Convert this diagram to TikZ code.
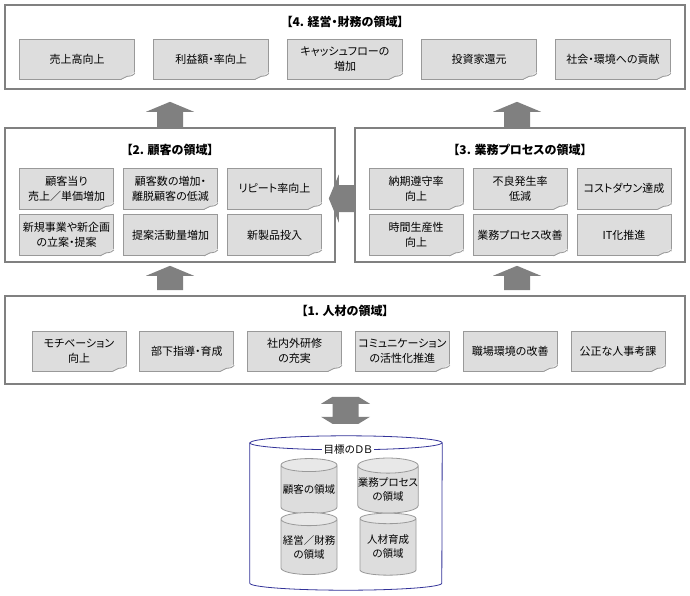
\documentclass[tikz,border=0pt]{standalone}
\usepackage{fontspec}
\setmainfont{Noto Sans CJK JP}[RawFeature=+palt]
\usetikzlibrary{shapes.geometric, calc, positioning}

\definecolor{framegray}{HTML}{808080}
\definecolor{notegray}{HTML}{DDDDDD}
\definecolor{noteline}{HTML}{999999}
\definecolor{foldgray}{HTML}{BDBDBD}
\definecolor{dbblue}{HTML}{333399}
\definecolor{endgray}{HTML}{E8E8E8}

% folded corner of a note
\newcommand{\dogear}[1]{%
  \fill[white] ([yshift=7pt]#1.south east) -- ([shift={(1pt,-1pt)}]#1.south east) -- ([shift={(-15pt,-1pt)}]#1.south east) -- cycle;
  \fill[foldgray] ([yshift=6pt]#1.south east) -- ([shift={(-8pt,3pt)}]#1.south east) -- ([xshift=-14pt]#1.south east) -- cycle;
  \draw[noteline, line width=0.8pt] ([yshift=6pt]#1.south east) .. controls ([shift={(-4pt,2pt)}]#1.south east) and ([shift={(-6pt,4pt)}]#1.south east) .. ([shift={(-8pt,3pt)}]#1.south east) -- ([xshift=-14pt]#1.south east);
}

\begin{document}
\begin{tikzpicture}[
    x=1pt, y=-1pt,
    frame/.style={draw=framegray, line width=1.6pt, fill=white, inner sep=0pt},
    title/.style={font=\bfseries\fontsize{12}{14}\selectfont},
    note/.style={draw=noteline, line width=0.8pt, fill=notegray, minimum height=40pt, inner sep=1pt, align=center, font=\fontsize{11}{15}\selectfont},
    blockarrow/.style={fill=framegray},
    uparrow/.style={to path={let \p1=(\tikztostart), \p2=(\tikztotarget) in
        (\x1-13pt,\y1) -- (\x1-13pt,\y2-10pt) -- (\x1-24pt,\y2-10pt) -- (\x1,\y2)
        -- (\x1+24pt,\y2-10pt) -- (\x1+13pt,\y2-10pt) -- (\x1+13pt,\y1) -- cycle}},
    leftarrow/.style={to path={let \p1=(\tikztostart), \p2=(\tikztotarget) in
        (\x1,\y1+13.5pt) -- (\x2+10pt,\y1+13.5pt) -- (\x2+10pt,\y1+24pt) -- (\x2,\y1)
        -- (\x2+10pt,\y1-24pt) -- (\x2+10pt,\y1-13.5pt) -- (\x1,\y1-13.5pt) -- cycle}},
    botharrow/.style={to path={let \p1=(\tikztostart), \p2=(\tikztotarget) in
        (\x1-13pt,\y1) -- (\x1+13pt,\y1) -- (\x1+24.5pt,\y1-7pt) -- (\x1+13pt,\y1-7pt)
        -- (\x1+13pt,\y2+7pt) -- (\x1+24.5pt,\y2+7pt) -- (\x1+13pt,\y2) -- (\x1-13pt,\y2)
        -- (\x1-24.5pt,\y2+7pt) -- (\x1-13pt,\y2+7pt) -- (\x1-13pt,\y1-7pt) -- (\x1-24.5pt,\y1-7pt) -- cycle}},
    dbline/.style={draw=dbblue, line width=0.8pt},
    subdb/.style={cylinder, shape border rotate=90, draw=noteline, line width=0.8pt,
        cylinder uses custom fill, cylinder body fill=notegray, cylinder end fill=endgray,
        minimum width=56pt, aspect=0.25, inner sep=0pt, align=center,
        font=\fontsize{10.5}{14}\selectfont}
]
    \useasboundingbox (0,0) rectangle (690,595);

    % Frames
    \node[frame, minimum width=680pt, minimum height=84pt] (fin) at (345,47) {};
    \node[frame, minimum width=330pt, minimum height=134pt] (cust) at (170,195) {};
    \node[frame, minimum width=330pt, minimum height=134pt] (proc) at (520,195) {};
    \node[frame, minimum width=680pt, minimum height=88pt] (hr) at (345,340) {};

    \node[title] (fintitle) at (345,22) {【4. 経営・財務の領域】};
    \node[title] (custtitle) at (170,150) {【2. 顧客の領域】};
    \node[title] (proctitle) at (520,150) {【3. 業務プロセスの領域】};
    \node[title] (hrtitle) at (345,311) {【1. 人材の領域】};

    % Finance notes
    \foreach \t [count=\i from 0] in {売上高向上, 利益額・率向上, {キャッシュフローの\\増加}, 投資家還元, 社会・環境への貢献} {
        \node[note, minimum width=115pt] (f\i) at ({77+134*\i}, 59) {\t};
        \dogear{f\i}
    }

    % Customer notes
    \foreach \t [count=\i from 0] in {{顧客当り\\売上／単価増加}, {顧客数の増加・\\離脱顧客の低減}, リピート率向上, {新規事業や新企画\\の立案・提案}, 提案活動量増加, 新製品投入} {
        \node[note, minimum width=94pt, minimum height=41pt] (c\i) at ({66.5+104*mod(\i,3)}, {188.5+46.5*int(\i/3)}) {\t};
        \dogear{c\i}
    }

    % Process notes
    \foreach \t [count=\i from 0] in {{納期遵守率\\向上}, {不良発生率\\低減}, コストダウン達成, {時間生産性\\向上}, 業務プロセス改善, IT化推進} {
        \node[note, minimum width=94pt, minimum height=41pt] (p\i) at ({416+104*mod(\i,3)}, {188.5+46.5*int(\i/3)}) {\t};
        \dogear{p\i}
    }

    % HR notes
    \foreach \t [count=\i from 0] in {{モチベーション\\向上}, 部下指導・育成, {社内外研修\\の充実}, {コミュニケーション\\の活性化推進}, 職場環境の改善, 公正な人事考課} {
        \node[note, minimum width=94pt] (h\i) at ({79+107.8*\i}, 351) {\t};
        \dogear{h\i}
    }

    % Block arrows
    \fill[blockarrow] (cust.north) to[uparrow] ($(cust.north |- fin.south)+(0,12)$);
    \fill[blockarrow] ([xshift=-3pt]proc.north) to[uparrow] ($([xshift=-3pt]proc.north |- fin.south)+(0,12)$);
    \fill[blockarrow] ($(cust.south |- hr.north)+(0,-5)$) to[uparrow] ($(cust.south)+(0,3)$);
    \fill[blockarrow] ($([xshift=-3pt]proc.south |- hr.north)+(0,-5)$) to[uparrow] ($([xshift=-3pt]proc.south)+(0,3)$);
    \fill[blockarrow] ([yshift=-3.5pt]proc.west) to[leftarrow] ($([yshift=-3.5pt]cust.east)+(-7,0)$);

    % Goal database
    \node[minimum width=192pt, minimum height=154pt, inner sep=0pt] (db) at (346,513) {};
    \filldraw[dbline, fill=white] ([yshift=-7pt]db.north west) -- ([yshift=7pt]db.south west)
        arc[start angle=180, end angle=360, x radius=96pt, y radius=7pt]
        -- ([yshift=-7pt]db.north east)
        arc[start angle=0, end angle=180, x radius=96pt, y radius=7pt] -- cycle;
    \draw[dbline] ([yshift=-7pt]db.north west) arc[start angle=180, end angle=360, x radius=96pt, y radius=7pt];
    \fill[blockarrow] ($(hr.south)+(0.5,12)$) to[botharrow] ($(hr.south |- db.north)+(0.5,-12)$);
    \node[fill=white, inner sep=2pt, font=\fontsize{10.5}{12}\selectfont] (dbtitle) at (348,450) {目標のＤＢ};
    \node[subdb, minimum height=55pt] (dbcust) at (309,489.5) {顧客の領域};
    \node[subdb, minimum height=55pt] (dbproc) at (388,489.5) {業務プロセス\\の領域};
    \node[subdb, minimum height=62pt] (dbfin) at (309,547) {経営／財務\\の領域};
    \node[subdb, minimum height=62pt] (dbhr) at (388,547) {人材育成\\の領域};
\end{tikzpicture}
\end{document}
